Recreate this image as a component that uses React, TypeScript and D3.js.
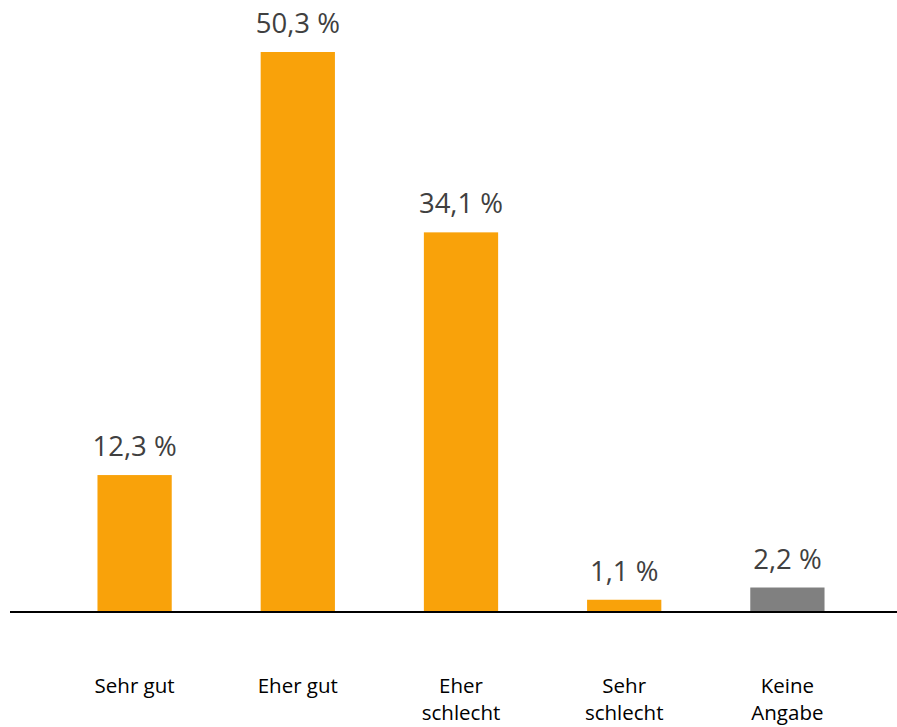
import React from "react";
import * as d3 from "d3";

const categories: string[][] = [["Sehr gut"], ["Eher gut"], ["Eher", "schlecht"], ["Sehr", "schlecht"], ["Keine", "Angabe"]];
const values: number[] = [12.3, 50.3, 34.1, 1.1, 2.2];
const colors: string[] = ["#F9A20A", "#F9A20A", "#F9A20A", "#F9A20A", "#808080"];

const W = 897;
const H = 727;
const baseY = 612;

export default function App() {
  const x = d3
    .scaleBand<number>()
    .domain(values.map((_, i) => i))
    .range([53, 869])
    .paddingInner(0.545)
    .paddingOuter(0.2725);
  const y = d3.scaleLinear().domain([0, 50.3]).range([baseY, 52]);
  const fmt = (v: number) => v.toFixed(1).replace(".", ",") + " %";
  return (
    <svg width={W} height={H} style={{ position: "absolute", left: 0, top: 0, background: "#fff" }}>
      {values.map((v, i) => (
        <g key={i}>
          <rect x={x(i)} y={y(v)} width={x.bandwidth()} height={baseY - y(v)} fill={colors[i]} />
          <text
            x={(x(i) as number) + x.bandwidth() / 2}
            y={y(v) - 19}
            textAnchor="middle"
            fontFamily="Open Sans"
            fontSize={27.5}
            fill="#404040"
          >
            {fmt(v)}
          </text>
          {categories[i].map((line, j) => (
            <text
              key={j}
              x={(x(i) as number) + x.bandwidth() / 2}
              y={693 + j * 27}
              textAnchor="middle"
              fontFamily="Open Sans"
              fontSize={20.5}
              fill="#000"
            >
              {line}
            </text>
          ))}
        </g>
      ))}
      <line x1={10} x2={897} y1={baseY} y2={baseY} stroke="#000" strokeWidth={2} />
    </svg>
  );
}
